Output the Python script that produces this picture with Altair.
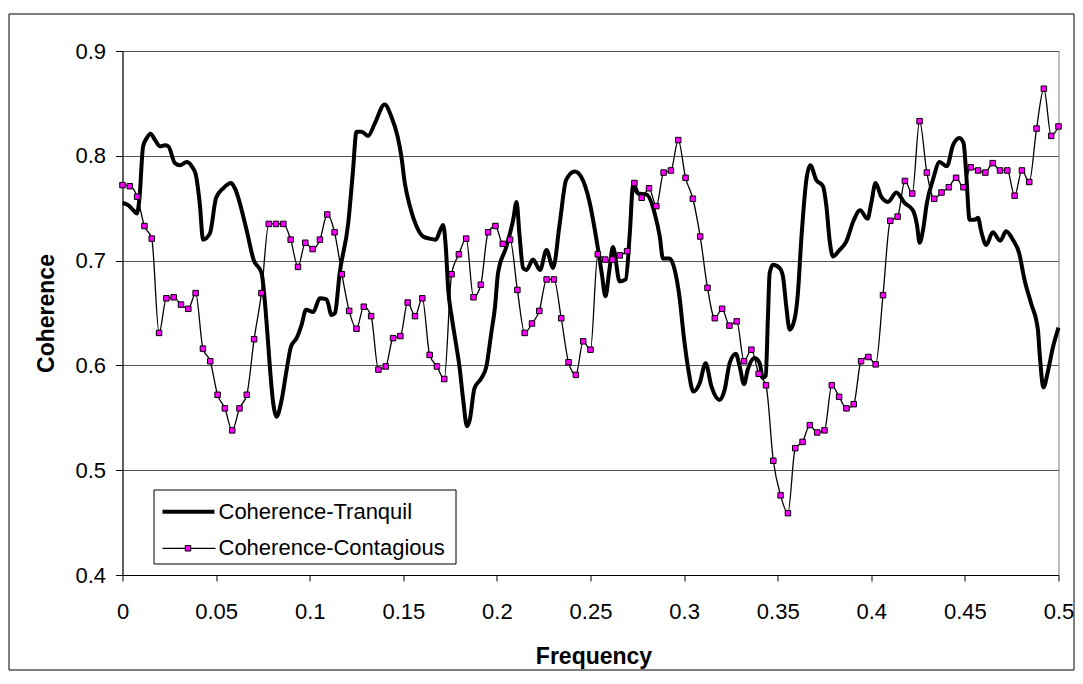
import altair as alt
import pandas as pd

# ---------------- data ----------------
tranquil_freq = [
    0.000, 0.003, 0.0058, 0.0076, 0.009, 0.011, 0.013, 0.015, 0.0174, 0.020,
    0.0227, 0.0245, 0.028, 0.0307, 0.0343, 0.037, 0.039, 0.0414, 0.043, 0.0467,
    0.050, 0.0538, 0.058, 0.060, 0.0663, 0.070, 0.0743, 0.077, 0.0787, 0.0805,
    0.0823, 0.085, 0.0877, 0.090, 0.093, 0.0957, 0.098, 0.1019, 0.1054, 0.109,
    0.1117, 0.1135, 0.116, 0.1206, 0.123, 0.125, 0.1277, 0.1312, 0.1348, 0.140,
    0.1437, 0.147, 0.149, 0.1508, 0.1535, 0.157, 0.1606, 0.164, 0.1674, 0.1695,
    0.1713, 0.1727, 0.174, 0.1758, 0.1782, 0.180, 0.182, 0.184, 0.1855, 0.188,
    0.1918, 0.1944, 0.197, 0.199, 0.2006, 0.205, 0.2087, 0.2105, 0.212, 0.214,
    0.2158, 0.2193, 0.223, 0.2265, 0.230, 0.2336, 0.237, 0.2416, 0.245, 0.2496,
    0.2532, 0.256, 0.258, 0.260, 0.262, 0.2656, 0.2688, 0.271, 0.2727, 0.2754,
    0.280, 0.2843, 0.287, 0.2887, 0.2923, 0.295, 0.2977, 0.2998, 0.302, 0.305,
    0.3083, 0.3115, 0.3146, 0.319, 0.3217, 0.3243, 0.3276, 0.3297, 0.332, 0.334,
    0.3377, 0.3404, 0.342, 0.3436, 0.3448, 0.3457, 0.3475, 0.351, 0.3528, 0.3546,
    0.3564, 0.359, 0.3608, 0.3626, 0.3653, 0.3674, 0.3706, 0.3742, 0.376, 0.3777,
    0.3795, 0.383, 0.3866, 0.3905, 0.394, 0.398, 0.400, 0.4023, 0.4053, 0.4089,
    0.4134, 0.4178, 0.4222, 0.4244, 0.4258, 0.4276, 0.4297, 0.4329, 0.4365, 0.4404,
    0.4436, 0.4471, 0.4493, 0.4507, 0.4525, 0.4552, 0.457, 0.4587, 0.4614, 0.4649,
    0.4689, 0.472, 0.4756, 0.479, 0.4818, 0.4854, 0.489, 0.4899, 0.492, 0.4943,
    0.497, 0.500,
]
tranquil_coh = [
    0.755, 0.753, 0.748, 0.745, 0.758, 0.809, 0.817, 0.821, 0.815, 0.809,
    0.810, 0.809, 0.793, 0.791, 0.794, 0.790, 0.783, 0.752, 0.720, 0.726,
    0.760, 0.769, 0.774, 0.769, 0.729, 0.701, 0.688, 0.640, 0.599, 0.564,
    0.551, 0.567, 0.596, 0.618, 0.626, 0.639, 0.653, 0.651, 0.664, 0.663,
    0.648, 0.650, 0.688, 0.736, 0.783, 0.823, 0.823, 0.819, 0.831, 0.849,
    0.837, 0.818, 0.799, 0.774, 0.752, 0.733, 0.723, 0.721, 0.720, 0.728,
    0.734, 0.713, 0.672, 0.647, 0.620, 0.599, 0.567, 0.542, 0.548, 0.578,
    0.588, 0.599, 0.631, 0.656, 0.688, 0.713, 0.739, 0.756, 0.726, 0.693,
    0.691, 0.701, 0.691, 0.710, 0.693, 0.736, 0.777, 0.785, 0.780, 0.755,
    0.720, 0.688, 0.666, 0.690, 0.713, 0.680, 0.682, 0.726, 0.771, 0.764,
    0.763, 0.745, 0.723, 0.702, 0.702, 0.691, 0.663, 0.628, 0.599, 0.575,
    0.583, 0.602, 0.580, 0.567, 0.577, 0.602, 0.611, 0.599, 0.582, 0.596,
    0.607, 0.602, 0.588, 0.590, 0.647, 0.688, 0.696, 0.693, 0.685, 0.656,
    0.634, 0.644, 0.669, 0.720, 0.777, 0.791, 0.777, 0.771, 0.752, 0.720,
    0.704, 0.710, 0.718, 0.738, 0.748, 0.740, 0.755, 0.774, 0.761, 0.756,
    0.765, 0.755, 0.748, 0.734, 0.717, 0.729, 0.755, 0.777, 0.794, 0.790,
    0.810, 0.817, 0.812, 0.783, 0.739, 0.739, 0.741, 0.728, 0.715, 0.727,
    0.719, 0.728, 0.720, 0.707, 0.682, 0.659, 0.634, 0.612, 0.579, 0.594,
    0.617, 0.636,
]

contagious_coh = [
    0.772, 0.771, 0.761, 0.733, 0.721, 0.631, 0.664, 0.665, 0.658, 0.654, 0.669,
    0.616, 0.604, 0.572, 0.559, 0.538, 0.559, 0.572, 0.625, 0.669, 0.735,
    0.735, 0.735, 0.720, 0.694, 0.717, 0.711, 0.720, 0.744, 0.727, 0.687,
    0.652, 0.635, 0.656, 0.647, 0.596, 0.599, 0.626, 0.628, 0.660, 0.647,
    0.664, 0.610, 0.599, 0.587, 0.687, 0.706, 0.721, 0.665, 0.677, 0.727,
    0.733, 0.716, 0.720, 0.672, 0.631, 0.640, 0.652, 0.682, 0.682, 0.645,
    0.603, 0.591, 0.623, 0.615, 0.706, 0.701, 0.701, 0.705, 0.709, 0.774,
    0.760, 0.769, 0.752, 0.784, 0.786, 0.815, 0.779, 0.759, 0.723, 0.674,
    0.645, 0.654, 0.638, 0.642, 0.604, 0.615, 0.592, 0.581, 0.509, 0.476,
    0.459, 0.521, 0.527, 0.543, 0.536, 0.538, 0.581, 0.570, 0.559, 0.563,
    0.604, 0.608, 0.601, 0.667, 0.738, 0.742, 0.776, 0.764, 0.833, 0.784,
    0.759, 0.765, 0.770, 0.779, 0.770, 0.789, 0.786, 0.784, 0.793, 0.786,
    0.786, 0.762, 0.786, 0.775, 0.826, 0.864, 0.819, 0.828,
]
# frequency grid: 129 evenly spaced bins from 0 to 0.5
contagious_freq = [i * 0.5 / 128 for i in range(len(contagious_coh))]

x_ticks = [0, 0.05, 0.1, 0.15, 0.2, 0.25, 0.3, 0.35, 0.4, 0.45, 0.5]
y_ticks = [0.4, 0.5, 0.6, 0.7, 0.8, 0.9]
legend_labels = ["Coherence-Tranquil", "Coherence-Contagious"]

FONT = "Liberation Sans"

df_t = pd.DataFrame({"Frequency": tranquil_freq, "Coherence": tranquil_coh})
df_c = pd.DataFrame({"Frequency": contagious_freq, "Coherence": contagious_coh})

x_enc = alt.X(
    "Frequency:Q",
    scale=alt.Scale(domain=[0, 0.5], nice=False, zero=False),
    axis=alt.Axis(
        values=x_ticks, format=".2~f", title="Frequency", grid=False,
        tickSize=6, labelPadding=37, labelBaseline="alphabetic",
        labelFlush=False, labelOverlap=False,
        labelFontSize=22, labelFont=FONT, labelColor="black",
        titleFont=FONT, titleFontSize=23, titleFontWeight="bold",
        titleY=88, titleX=471, titleBaseline="alphabetic", titleColor="black",
        domainColor="black", tickColor="black",
    ),
)
y_enc = alt.Y(
    "Coherence:Q",
    scale=alt.Scale(domain=[0.4, 0.9], nice=False, zero=False),
    axis=alt.Axis(
        values=y_ticks, format=".1f", title="Coherence", grid=True,
        gridColor="#555555", gridWidth=1,
        tickSize=7, labelPadding=10, labelFlush=False,
        labelFontSize=22, labelFont=FONT, labelColor="black",
        titleFont=FONT, titleFontSize=23, titleFontWeight="bold",
        titleAngle=270, titleX=-69, titleY=262, titleBaseline="alphabetic",
        titleAlign="center", titleColor="black",
        domainColor="black", tickColor="black",
    ),
)

tranquil = alt.Chart(df_t).mark_line(
    color="black", strokeWidth=4, interpolate="monotone"
).encode(x=x_enc, y=y_enc)

contag_line = alt.Chart(df_c).mark_line(
    color="black", strokeWidth=1.3, interpolate="monotone"
).encode(x="Frequency:Q", y="Coherence:Q")

contag_pts = alt.Chart(df_c).mark_point(
    shape="square", filled=True, fill="#FF00FF", stroke="black",
    strokeWidth=1, size=30, opacity=1
).encode(x="Frequency:Q", y="Coherence:Q")

# ---------------- decorations: outer frame and legend ----------------
one = pd.DataFrame({"k": [0]})
frame = alt.Chart(one).mark_rect(
    fillOpacity=0, stroke="black", strokeWidth=1
).encode(x=alt.value(-113.5), x2=alt.value(951.5), y=alt.value(-37), y2=alt.value(619))

leg_box = alt.Chart(one).mark_rect(
    fill="white", stroke="black", strokeWidth=1
).encode(x=alt.value(31.5), x2=alt.value(333.5), y=alt.value(439), y2=alt.value(513))

leg_line1 = alt.Chart(one).mark_rule(color="black", strokeWidth=4).encode(
    x=alt.value(40), x2=alt.value(92), y=alt.value(460.7)
)
leg_line2 = alt.Chart(one).mark_rule(color="black", strokeWidth=1.3).encode(
    x=alt.value(40), x2=alt.value(93), y=alt.value(497.3)
)
leg_pt = alt.Chart(one).mark_point(
    shape="square", filled=True, fill="#FF00FF", stroke="black",
    strokeWidth=1, size=30, opacity=1
).encode(x=alt.value(65.5), y=alt.value(497.3))

leg_text1 = alt.Chart(pd.DataFrame({"t": [legend_labels[0]]})).mark_text(
    align="left", baseline="middle", font=FONT, fontSize=22, color="black"
).encode(x=alt.value(96), y=alt.value(460.7), text="t:N")
leg_text2 = alt.Chart(pd.DataFrame({"t": [legend_labels[1]]})).mark_text(
    align="left", baseline="middle", font=FONT, fontSize=22, color="black"
).encode(x=alt.value(96), y=alt.value(497.3), text="t:N")

chart = alt.layer(
    tranquil, contag_line, contag_pts, frame,
    leg_box, leg_line1, leg_line2, leg_pt, leg_text1, leg_text2,
).properties(
    width=936, height=524,
    padding={"left": 114.5, "top": 43, "right": 16.5, "bottom": 96},
    autosize=alt.AutoSizeParams(type="none"),
    background="white",
).configure_view(
    stroke="#808080", strokeWidth=1
)

chart.save("out.html", embed_options={"renderer": "svg", "actions": False})
